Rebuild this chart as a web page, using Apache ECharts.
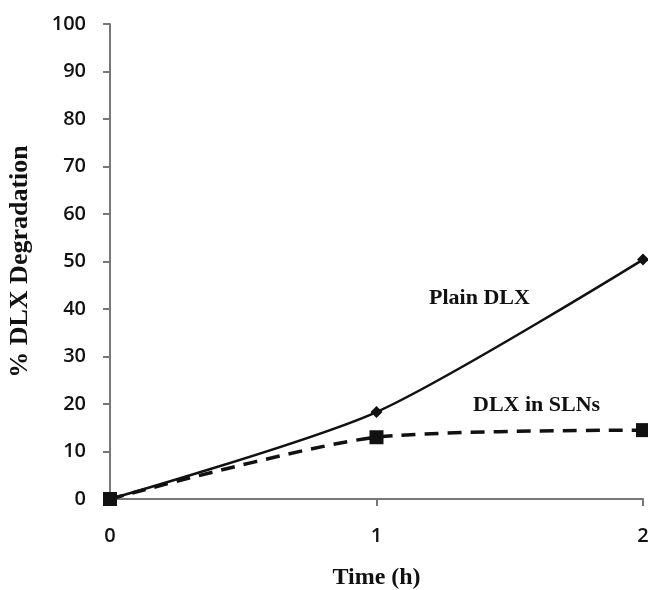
<!DOCTYPE html>
<html>
<head>
<meta charset="utf-8">
<script src="https://cdn.jsdelivr.net/npm/echarts@6/dist/echarts.min.js"></script>
<style>
  html, body { margin: 0; padding: 0; background: #fff; }
  #main { width: 648px; height: 590px; }
</style>
</head>
<body>
<div id="main"></div>
<script>
// data
var timeHours = [0, 1, 2];
var plainDLX = [0, 18.3, 50.4];
var dlxInSLNs = [0, 13.0, 14.5];
var yTicks = [0, 10, 20, 30, 40, 50, 60, 70, 80, 90, 100];

var chart = echarts.init(document.getElementById('main'));

var tickFont = '"Open Sans", Lato, sans-serif';
var titleFont = '"Liberation Serif", "DejaVu Serif", serif';

var option = {
  backgroundColor: '#fff',
  animation: false,
  grid: { left: 110, right: 5, top: 24, bottom: 91, containLabel: false, outerBoundsMode: 'none' },
  xAxis: {
    type: 'value',
    min: 0, max: 2, interval: 1,
    name: 'Time (h)',
    nameLocation: 'middle',
    nameGap: 67,
    nameTextStyle: { fontFamily: titleFont, fontWeight: 'bold', fontSize: 24, color: '#111' },
    axisLine: { lineStyle: { color: '#777', width: 2 } },
    axisTick: { show: true, length: 7, lineStyle: { color: '#777', width: 2 } },
    axisLabel: { fontFamily: tickFont, fontWeight: 600, fontSize: 20, color: '#111', margin: 27, showMaxLabel: true },
    splitLine: { show: false }
  },
  yAxis: {
    type: 'value',
    min: 0, max: 100, interval: 10,
    name: '% DLX Degradation',
    nameLocation: 'middle',
    nameGap: 77,
    nameTextStyle: { fontFamily: titleFont, fontWeight: 'bold', fontSize: 26, color: '#111' },
    axisLine: { show: true, lineStyle: { color: '#777', width: 2 } },
    axisTick: { show: true, length: 7, lineStyle: { color: '#777', width: 2 } },
    axisLabel: {
      fontFamily: tickFont, fontWeight: 600, fontSize: 20, color: '#111', margin: 24,
      formatter: function (v) { return yTicks.indexOf(v) >= 0 ? String(v) : ''; }
    },
    splitLine: { show: false }
  },
  series: [
    {
      name: 'Plain DLX',
      type: 'line',
      data: timeHours.map(function (t, i) { return [t, plainDLX[i]]; }),
      smooth: 0.25,
      symbol: 'diamond',
      symbolSize: 12,
      itemStyle: { color: '#111' },
      lineStyle: { color: '#111', width: 2.5 },
      z: 3
    },
    {
      name: 'DLX in SLNs',
      type: 'line',
      data: timeHours.map(function (t, i) { return [t, dlxInSLNs[i]]; }),
      smooth: 0.25,
      symbol: 'rect',
      symbolSize: 14,
      itemStyle: { color: '#111' },
      lineStyle: { color: '#111', width: 3.5, type: [14, 9] },
      z: 2
    }
  ],
  graphic: [
    {
      type: 'text', left: 429, top: 287,
      style: { text: 'Plain DLX', fontFamily: titleFont, fontWeight: 'bold', fontSize: 22, fill: '#111' }
    },
    {
      type: 'text', left: 473, top: 394,
      style: { text: 'DLX in SLNs', fontFamily: titleFont, fontWeight: 'bold', fontSize: 22, fill: '#111' }
    }
  ]
};

chart.setOption(option);
</script>
</body>
</html>
